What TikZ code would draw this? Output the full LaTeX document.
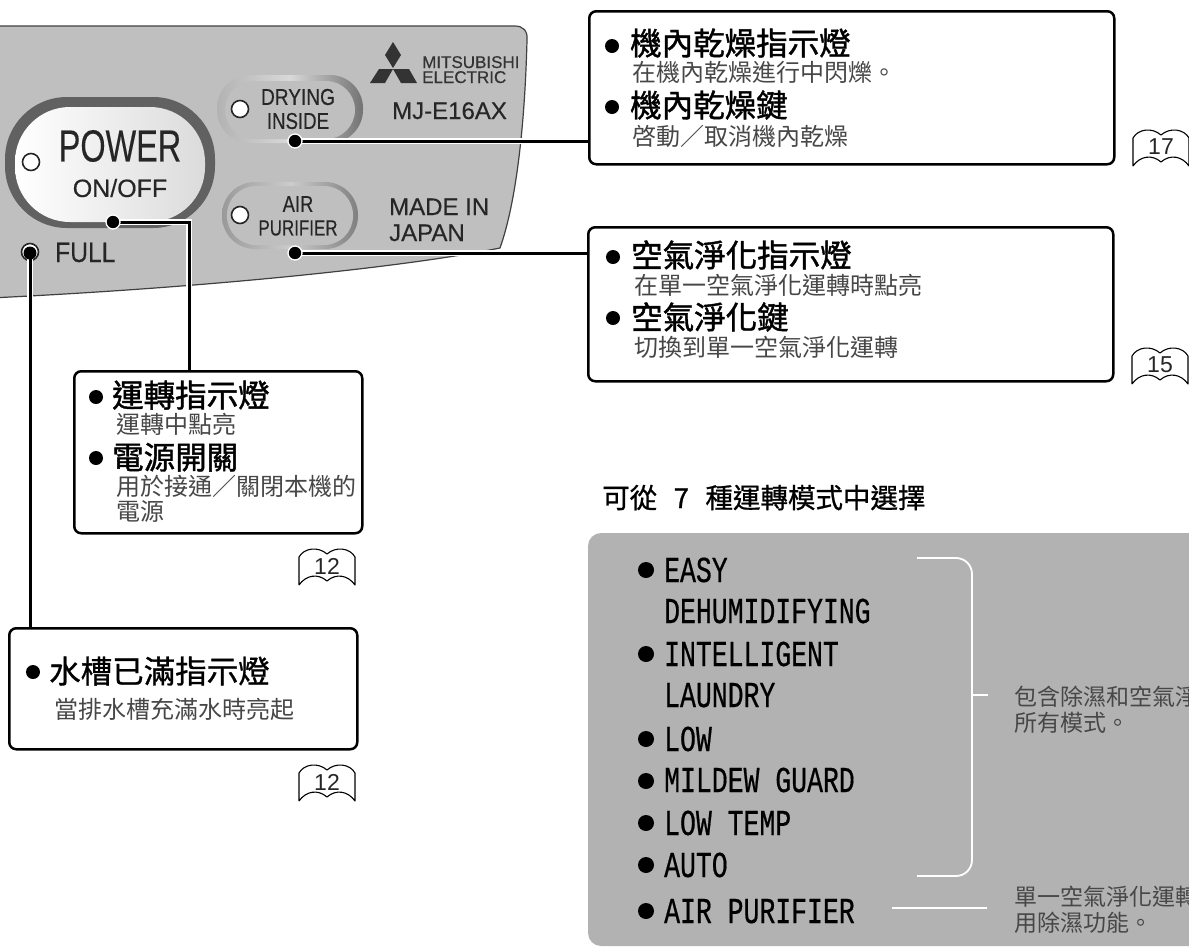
\documentclass[tikz,border=0pt]{standalone}
\usepackage{fontspec}
\setmainfont{Liberation Sans}
\newfontfamily\cjk{Noto Sans CJK TC}
\newfontfamily\cjkmed[FakeBold=0.9]{Noto Sans CJK TC}
\newfontfamily\cjkhead[FakeBold=1.3]{Noto Sans CJK TC}
\newfontfamily\monon[FakeStretch=0.725,FakeBold=0.5]{Liberation Mono}
\newfontfamily\panelfont[FakeBold=0.35]{Liberation Sans}
\definecolor{panelgray}{gray}{0.75}
\definecolor{modegray}{gray}{0.70}
\definecolor{inktext}{gray}{0.15}
\definecolor{thintext}{gray}{0.28}
\tikzset{
  x=1pt,y=-1pt,
  infobox/.style={draw=black,line width=2.5pt,rounded corners=7pt,fill=white,anchor=north west,inner sep=0pt},
  bullet/.style={circle,fill=black,inner sep=0pt,minimum size=#1},
  bullet/.default=14pt,
  dotend/.style={circle,fill=black,draw=white,line width=1.3pt,inner sep=0pt,minimum size=14pt},
  fulldot/.style={circle,fill=black,inner sep=0pt,minimum size=13pt},
  halo/.style={draw=white,line width=5.5pt},
  wire/.style={draw=black,line width=3pt},
  head/.style={anchor=base west,inner sep=0pt,font=\cjkhead\fontsize{31.5}{32}\selectfont},
  headreg/.style={anchor=base west,inner sep=0pt,font=\cjkmed\fontsize{31.5}{32}\selectfont},
  subtext/.style={anchor=base west,inner sep=0pt,font=\cjk\fontsize{24}{24}\selectfont,text=thintext},
  sidetext/.style={anchor=base west,inner sep=0pt,font=\cjk\fontsize{23}{23}\selectfont,text=thintext},
  modetext/.style={anchor=base west,inner sep=0pt,font=\monon\fontsize{36.5}{36}\selectfont},
  paneltext/.style={inner sep=0pt,text=inktext,transform shape},
  led/.style={circle,draw=black!85,line width=1.6pt,fill=white,inner sep=0pt,minimum size=17pt},
  whiteline/.style={draw=white,line width=1.8pt},
  bookline/.style={draw=black,line width=1.1pt,line join=round}
}
\newcommand{\bookicon}[4]{%
  \begin{scope}[shift={(#1,#2)}]
    \draw[bookline] (1,38) -- (1,10) .. controls (6,1) and (20,-1) .. (29,7) .. controls (38,-1) and (52,1) .. (57,10) -- (57,38)
      .. controls (50,28) and (38,26) .. (29,34) .. controls (20,26) and (8,28) .. (1,38);
    \node[inner sep=0pt,font=\fontsize{23}{23}\selectfont,text=inktext] (#4) at (29,19) {#3};
  \end{scope}}
\begin{document}
\begin{tikzpicture}
\useasboundingbox (0,0) rectangle (1189,946);
\clip (0,0) rectangle (1189,946);
% control panel
\draw[fill=panelgray,draw=black!75,line width=1.2pt]
  (-10,26) -- (515,26) .. controls (523,26) and (528,31) .. (527,40)
  .. controls (525,120) and (517,200) .. (500,248)
  .. controls (400,268) and (200,288) .. (-10,298) -- cycle;
% logo
\fill[black!80] (393,42) -- (401,55) -- (393,68) -- (385,55) -- cycle;
\fill[black!80] (370,83) -- (379,69) -- (393,69) -- (385,83) -- cycle;
\fill[black!80] (393,69) -- (409,69) -- (417,83) -- (401,83) -- cycle;
\node[anchor=base west,inner sep=0pt,font=\panelfont\fontsize{17}{17}\selectfont,text=black!80] (brandA) at (422,68) {MITSUBISHI};
\node[anchor=base west,inner sep=0pt,font=\panelfont\fontsize{17}{17}\selectfont,text=black!80] (brandB) at (422,83) {ELECTRIC};
% power button
\path[fill=black!62,rounded corners=62pt] (5,97) rectangle (215,228);
\path[left color=white,right color=black!14,rounded corners=55pt] (15,107) rectangle (205,222);
% drying and air rings
\path[left color=black!30,right color=black!55,middle color=black!15,rounded corners=33pt] (217,75) rectangle (363,143);
\path[fill=panelgray,rounded corners=29pt] (225,81) rectangle (355,139);
\path[left color=black!40,right color=black!50,middle color=black!20,rounded corners=33pt] (222,182) rectangle (358,249);
\path[fill=panelgray,rounded corners=29pt] (227,186) rectangle (353,245);
% LEDs
\node[led] (ledPower) at (31,162) {};
\node[led] (ledDry) at (240,109) {};
\node[led] (ledAir) at (240,215) {};
\node[led] (ledFull) at (30,252) {};
% panel texts
\node[paneltext,xscale=.72,font=\panelfont\fontsize{45}{45}\selectfont] (power) at (120,146) {POWER};
\node[paneltext,font=\panelfont\fontsize{25}{25}\selectfont] (onoff) at (120,188) {ON/OFF};
\node[paneltext,xscale=.88,anchor=base west,font=\panelfont\fontsize{28}{28}\selectfont] (full) at (55,262) {FULL};
\node[paneltext,xscale=.83,font=\panelfont\fontsize{23}{23}\selectfont] (drying) at (298,97) {DRYING};
\node[paneltext,xscale=.81,font=\panelfont\fontsize{23}{23}\selectfont] (inside) at (298,121) {INSIDE};
\node[paneltext,xscale=.8,font=\panelfont\fontsize{23}{23}\selectfont] (air) at (298,204) {AIR};
\node[paneltext,xscale=.77,font=\panelfont\fontsize{22}{22}\selectfont] (purifier) at (298,228) {PURIFIER};
\node[paneltext,anchor=base west,font=\panelfont\fontsize{24}{24}\selectfont] (model) at (392,119) {MJ-E16AX};
\node[paneltext,anchor=base west,font=\panelfont\fontsize{24}{24}\selectfont] (made) at (389,215) {MADE IN};
\node[paneltext,anchor=base west,font=\panelfont\fontsize{24}{24}\selectfont] (japan) at (389,241) {JAPAN};
% boxes
\node[infobox,minimum width=525pt,minimum height=153pt] (boxDry) at (588,10) {};
\node[infobox,minimum width=525pt,minimum height=154pt] (boxAir) at (587,226) {};
\node[infobox,minimum width=288pt,minimum height=162pt] (boxPower) at (73,370) {};
\node[infobox,minimum width=348pt,minimum height=121pt] (boxFull) at (8,627) {};
% connector ends
\coordinate (posDry) at (295,141);
\coordinate (posAir) at (295,253);
\coordinate (posPower) at (113,222);
\coordinate (posFull) at (30,253);
\coordinate (bendPower) at (189,222);
% connectors
\path[halo] (posDry) -- (boxDry.west |- posDry);
\path[halo] (posAir) -- (boxAir.west |- posAir);
\path[halo] (posPower) -- (bendPower) -- (bendPower |- boxPower.north);
\path[halo] (posFull) -- (posFull |- boxFull.north);
\path[wire] (posDry) -- (boxDry.west |- posDry);
\path[wire] (posAir) -- (boxAir.west |- posAir);
\path[wire] (posPower) -- (bendPower) -- (bendPower |- boxPower.north);
\path[wire] (posFull) -- (posFull |- boxFull.north);
\node[dotend] (dotDry) at (posDry) {};
\node[dotend] (dotAir) at (posAir) {};
\node[dotend] (dotPower) at (posPower) {};
\node[fulldot] (dotFull) at (posFull) {};
% box dry
\node[bullet] (b1) at (612,46) {};
\node[head] (t1) at (630,55) {機內乾燥指示燈};
\node[subtext] (s1) at (632,81) {在機內乾燥進行中閃爍。};
\node[bullet] (b2) at (612,107) {};
\node[head] (t2) at (630,117) {機內乾燥鍵};
\node[subtext] (s2) at (632,145) {啓動／取消機內乾燥};
% box air
\node[bullet] (b3) at (613,257) {};
\node[head] (t3) at (631,267) {空氣淨化指示燈};
\node[subtext] (s3) at (634,294) {在單一空氣淨化運轉時點亮};
\node[bullet] (b4) at (613,318) {};
\node[head] (t4) at (631,329) {空氣淨化鍵};
\node[subtext] (s4) at (634,356) {切換到單一空氣淨化運轉};
% box power
\node[bullet] (b5) at (96,397) {};
\node[head] (t5) at (112,407) {運轉指示燈};
\node[subtext] (s5) at (116,433) {運轉中點亮};
\node[bullet] (b6) at (96,458) {};
\node[head] (t6) at (112,469) {電源開關};
\node[subtext] (s6) at (116,495) {用於接通／關閉本機的};
\node[subtext] (s7) at (116,520) {電源};
% box full
\node[bullet] (b7) at (33,672) {};
\node[headreg] (t7) at (49,683) {水槽已滿指示燈};
\node[subtext] (s8) at (54,718) {當排水槽充滿水時亮起};
% book icons
\bookicon{1132}{128}{17}{pageA}
\bookicon{1131}{346}{15}{pageB}
\bookicon{298}{547}{12}{pageC}
\bookicon{298}{763}{12}{pageD}
% modes
\node[anchor=base west,inner sep=0pt,font=\cjkmed\fontsize{27.5}{27}\selectfont] (title) at (602,508) {可從\hspace{0.6em}7\hspace{0.6em}種運轉模式中選擇};
\path[fill=modegray,rounded corners=13pt] (588,533) rectangle (1220,946);
\node[bullet=16pt] (d1) at (646,570) {};
\node[modetext] (m1) at (664,582) {EASY};
\node[modetext] (m2) at (664,623) {DEHUMIDIFYING};
\node[bullet=16pt] (d2) at (646,654) {};
\node[modetext] (m3) at (664,666) {INTELLIGENT};
\node[modetext] (m4) at (664,707) {LAUNDRY};
\node[bullet=16pt] (d3) at (646,739) {};
\node[modetext] (m5) at (664,751) {LOW};
\node[bullet=16pt] (d4) at (646,781) {};
\node[modetext] (m6) at (664,792) {MILDEW GUARD};
\node[bullet=16pt] (d5) at (646,823) {};
\node[modetext] (m7) at (664,835) {LOW TEMP};
\node[bullet=16pt] (d6) at (646,865) {};
\node[modetext] (m8) at (664,877) {AUTO};
\node[bullet=16pt] (d7) at (646,911) {};
\node[modetext] (m9) at (664,923) {AIR PURIFIER};
% bracket
\coordinate (brT) at (917,558);
\coordinate (brB) at (917,876);
\coordinate (brTick) at (988,695);
\coordinate (lineA) at (892,908);
\coordinate (lineB) at (987,908);
\path[whiteline,rounded corners=16pt] (brT) -- (972,558) -- (972,876) -- (brB);
\path[whiteline] (972,695) -- (brTick);
\path[whiteline] (lineA) -- (lineB);
\node[sidetext] (r1) at (1014,705) {包含除濕和空氣淨};
\node[sidetext] (r2) at (1014,731) {所有模式。};
\node[sidetext] (r3) at (1014,905) {單一空氣淨化運轉};
\node[sidetext] (r4) at (1014,931) {用除濕功能。};
\end{tikzpicture}
\end{document}
